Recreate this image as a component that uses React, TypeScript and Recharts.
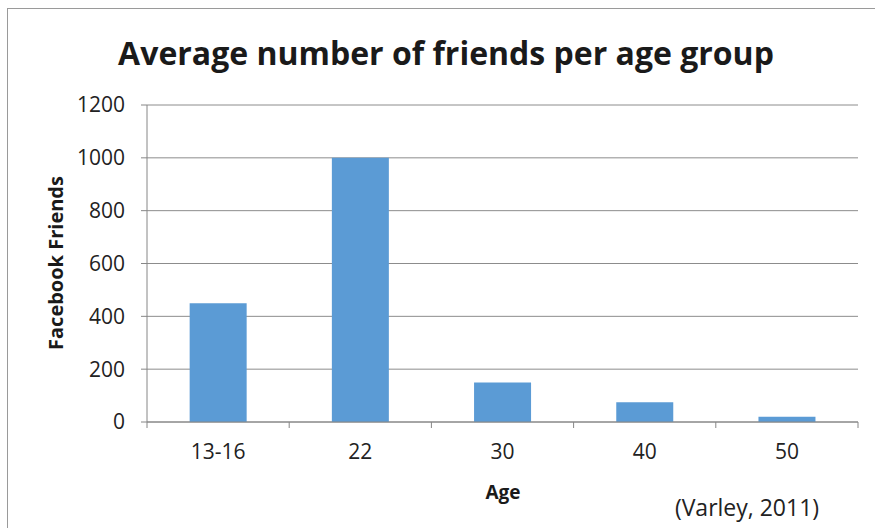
import React from "react";
import { BarChart, Bar, XAxis, YAxis, CartesianGrid } from "recharts";

const categories = ["13-16", "22", "30", "40", "50"];
const friends = [450, 1000, 150, 75, 20];
const yTicks = [0, 200, 400, 600, 800, 1000, 1200];

const data = categories.map((c, i) => ({ age: c, friends: friends[i] }));

const W = 875;
const H = 528;
const margin = { top: 105, right: 17, bottom: 50, left: 0 };
const yAxisWidth = 147;
const bandW = (W - margin.left - yAxisWidth - margin.right) / categories.length;
const FONT = "'Open Sans', sans-serif";

const XTick = (props: any) => {
  const { x, y, payload, index } = props;
  const left = x - bandW / 2;
  return (
    <g>
      <line x1={left} y1={y - 8} x2={left} y2={y - 2} stroke="#868686" strokeWidth={1} />
      {index === categories.length - 1 && (
        <line x1={x + bandW / 2} y1={y - 8} x2={x + bandW / 2} y2={y - 2} stroke="#868686" strokeWidth={1} />
      )}
      <text x={x} y={y + 29} textAnchor="middle" fill="#222" fontSize={21} fontFamily={FONT}>
        {payload.value}
      </text>
    </g>
  );
};

export default function App() {
  return (
    <div style={{ position: "absolute", left: 0, top: 0, width: W, height: H, background: "#fff", fontFamily: FONT }}>
      <div
        style={{
          position: "absolute",
          left: 7,
          top: 8,
          width: W,
          height: H,
          border: "1px solid #9a9a9a",
          boxSizing: "border-box",
        }}
      />
      <BarChart width={W} height={H} data={data} margin={margin} barCategoryGap="30%">
        <text x={446} y={65} textAnchor="middle" fontSize={32} fontWeight="bold" fill="#1a1a1a" fontFamily={FONT}>
          Average number of friends per age group
        </text>
        <text x={747} y={516} textAnchor="middle" fontSize={23} fill="#222" fontFamily={FONT}>
          (Varley, 2011)
        </text>
        <text x={503} y={499} textAnchor="middle" fontSize={19} fontWeight="bold" fill="#1a1a1a" fontFamily={FONT}>
          Age
        </text>
        <text
          x={55}
          y={263}
          transform="rotate(-90, 55, 263)"
          textAnchor="middle"
          dominantBaseline="central"
          fontSize={20}
          fontWeight="bold"
          fill="#1a1a1a"
          fontFamily={FONT}
        >
          Facebook Friends
        </text>
        <CartesianGrid vertical={false} stroke="#8c8c8c" strokeWidth={1} />
        <XAxis
          dataKey="age"
          axisLine={{ stroke: "#868686" }}
          tickLine={false}
          tick={<XTick />}
          height={56}
          interval={0}
        />
        <YAxis
          domain={[0, 1200]}
          ticks={yTicks}
          width={yAxisWidth}
          axisLine={{ stroke: "#868686" }}
          tickLine={{ stroke: "#868686" }}
          tickSize={6}
          tickMargin={16}
          tick={{ fontSize: 21, fill: "#222", fontFamily: FONT }}
        />
        <Bar dataKey="friends" fill="#5B9BD5" isAnimationActive={false} />
      </BarChart>
    </div>
  );
}
